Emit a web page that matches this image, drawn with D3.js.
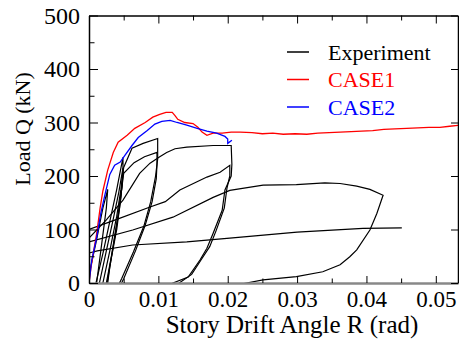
<!DOCTYPE html>
<html>
<head>
<meta charset="utf-8">
<script src="https://cdn.jsdelivr.net/npm/d3@7"></script>
<style>
  body { margin: 0; background: #fff; }
</style>
</head>
<body>
<svg id="chart" width="459" height="339"></svg>
<script>

var serif = "Liberation Serif, Times New Roman, Times, serif";

// tick values and labels
var xTicks = [0, 0.01, 0.02, 0.03, 0.04, 0.05];
var xTickLabels = ["0", "0.01", "0.02", "0.03", "0.04", "0.05"];
var xMinor = [0.005, 0.015, 0.025, 0.035, 0.045];
var yTicks = [0, 100, 200, 300, 400, 500];
var yMinor = [50, 150, 250, 350, 450];

var legendNames = ["Experiment", "CASE1", "CASE2"];
var legendColors = ["#000000", "#ff0000", "#0000ff"];

// CASE1 (red) analysis
var case1R = [0, 0.0003, 0.0007, 0.0011, 0.0016, 0.0020, 0.0027, 0.0035, 0.0042, 0.0055, 0.0066, 0.0081, 0.0092, 0.0102, 0.0111, 0.0120, 0.0124, 0.0128, 0.0138, 0.0150, 0.0157, 0.0163, 0.0170, 0.0179, 0.0192, 0.0205, 0.0218, 0.0235, 0.0250, 0.0265, 0.0280, 0.0297, 0.0314, 0.0330, 0.0346, 0.0362, 0.0378, 0.0393, 0.0409, 0.0425, 0.0441, 0.0458, 0.0474, 0.0490, 0.0506, 0.0520, 0.0535];
var case1Q = [0, 30, 62, 92, 140, 172, 211, 244, 263, 276, 289, 300, 310, 315, 319, 319, 313, 306, 300, 298, 291, 282, 276, 280, 280, 282, 282, 281, 279, 280, 278, 279, 278, 280, 281, 282, 283, 284, 285, 287, 288, 289, 290, 291, 291, 293, 295];

// CASE2 (blue) analysis
var case2R = [0, 0.0004, 0.0011, 0.0017, 0.0023, 0.0030, 0.0037, 0.0045, 0.0052, 0.0062, 0.0071, 0.0084, 0.0095, 0.0105, 0.0117, 0.0127, 0.0141, 0.0156, 0.0170, 0.0184, 0.0196, 0.0200, 0.0200, 0.0206];
var case2Q = [0, 43, 85, 130, 165, 203, 220, 226, 239, 257, 272, 285, 297, 302, 304, 300, 295, 289, 284, 280, 274, 269, 261, 267];

// experiment, one array per cycle [R, Q]
var cyc1 = [[-0.0005, -40], [0, 15], [0.001, 75], [0.002, 140], [0.0027, 175], [0.0025, 140], [0.0019, 80], [0.0013, 20], [0.0009, -20]];
var cyc2 = [[0.0006, -30], [0.001, 0], [0.002, 55], [0.003, 115], [0.004, 175], [0.0049, 235], [0.0049, 205], [0.0046, 160], [0.0040, 100], [0.0032, 45], [0.0026, 0], [0.0022, -30]];
var cyc3 = [[0.0012, -30], [0.0015, 0], [0.0025, 60], [0.0035, 120], [0.0043, 170], [0.0049, 215], [0.0048, 185], [0.0044, 140], [0.0037, 85], [0.0030, 30], [0.0027, 0], [0.0024, -25]];
var cyc4 = [[0.0016, -30], [0.002, 0], [0.003, 60], [0.004, 125], [0.0046, 175], [0.005, 216], [0.0062, 252], [0.0078, 261], [0.0099, 270], [0.0099, 232], [0.0096, 200], [0.0089, 152], [0.0079, 106], [0.0064, 58], [0.0047, 8], [0.0044, 0], [0.004, -15]];
var cyc5 = [[0.0022, -20], [0.0025, 0], [0.0033, 55], [0.0041, 120], [0.0047, 175], [0.0050, 205], [0.0065, 225], [0.0080, 236], [0.0098, 244], [0.0098, 222], [0.0097, 195], [0.0091, 152], [0.0081, 108], [0.0067, 60], [0.0050, 8], [0.0047, 0], [0.0043, -15]];
var cyc6 = [[-0.002, 50], [0, 84], [0.0025, 118], [0.0049, 155], [0.0073, 205], [0.0088, 224], [0.0102, 236], [0.0112, 244], [0.0124, 251], [0.0141, 254], [0.0179, 257], [0.0205, 257], [0.0206, 222], [0.0205, 200], [0.0196, 174], [0.0192, 136], [0.0179, 93], [0.0170, 65], [0.0160, 43], [0.0143, 11], [0.0121, 0], [0.011, -10]];
var cyc7 = [[-0.002, 70], [0, 100], [0.004, 119], [0.0088, 142], [0.011, 152], [0.0131, 174], [0.017, 198], [0.0189, 207], [0.0203, 220], [0.0203, 200], [0.0199, 178], [0.0195, 140], [0.0183, 97], [0.0174, 68], [0.0161, 42], [0.0148, 16], [0.0130, 0], [0.012, -8]];
var cyc8 = [[-0.003, 40], [0, 77], [0.0063, 99], [0.0121, 123], [0.0179, 160], [0.0203, 173], [0.0251, 183], [0.0299, 184], [0.0340, 187], [0.0362, 186], [0.0386, 181], [0.0405, 175], [0.0424, 164], [0.0415, 130], [0.0405, 99], [0.0386, 62], [0.0376, 49], [0.0362, 34], [0.0337, 21], [0.0299, 12], [0.0251, 6], [0.0227, 0], [0.02, -8]];
var cyc9 = [[-0.003, 30], [0, 56], [0.0012, 60], [0.0063, 71], [0.0141, 77], [0.0203, 84], [0.030, 95], [0.0395, 102], [0.0451, 103]];

var cycles = [cyc1, cyc2, cyc3, cyc4, cyc5, cyc6, cyc7, cyc8, cyc9];

var margin = {top: 15.5, left: 89},
    width = 369,
    height = 267.5;

var x = d3.scaleLinear().domain([0, 0.0532]).range([0, width]);
var y = d3.scaleLinear().domain([0, 500]).range([height, 0]);

var svg = d3.select("#chart")
  .append("g")
    .attr("transform", "translate(" + margin.left + "," + margin.top + ")");

svg.append("clipPath").attr("id", "clip")
  .append("rect").attr("width", width).attr("height", height);

var line = d3.line()
    .x(function(d) { return x(d[0]); })
    .y(function(d) { return y(d[1]); });

var plot = svg.append("g").attr("clip-path", "url(#clip)");

plot.selectAll(".exp")
    .data(cycles)
  .enter().append("path")
    .attr("class", "exp")
    .attr("d", line)
    .attr("fill", "none")
    .attr("stroke", "#000")
    .attr("stroke-width", 1.2);

plot.append("path")
    .attr("d", line(case1R.map(function(r, i) { return [r, case1Q[i]]; })))
    .attr("fill", "none")
    .attr("stroke", "#ff0000")
    .attr("stroke-width", 1.3);

plot.append("path")
    .attr("d", line(case2R.map(function(r, i) { return [r, case2Q[i]]; })))
    .attr("fill", "none")
    .attr("stroke", "#0000ff")
    .attr("stroke-width", 1.3);

// frame and ticks (all pointing inward)
var bottomAxis = svg.append("g")
    .attr("transform", "translate(0," + height + ")")
    .call(d3.axisBottom(x).tickValues(xTicks).tickSizeInner(-7).tickSizeOuter(0).tickPadding(8)
      .tickFormat(function(d, i) { return xTickLabels[i]; }))
    .attr("font-family", serif)
    .attr("font-size", 23);
bottomAxis.select(".domain").attr("stroke", "#888").attr("stroke-width", 2.5);
bottomAxis.selectAll("text").attr("fill", "#000");

svg.append("g")
    .attr("transform", "translate(0," + height + ")")
    .call(d3.axisBottom(x).tickValues(xMinor).tickSize(-4.5).tickFormat(""))
    .select(".domain").remove();

var leftAxis = svg.append("g")
    .call(d3.axisLeft(y).tickValues(yTicks).tickSizeInner(-9).tickSizeOuter(0).tickPadding(9))
    .attr("font-family", serif)
    .attr("font-size", 24);
leftAxis.select(".domain").attr("stroke-width", 1.5);
leftAxis.selectAll("text").attr("fill", "#000");

svg.append("g")
    .call(d3.axisLeft(y).tickValues(yMinor).tickSize(-5.5).tickFormat(""))
    .select(".domain").remove();

var topAxis = svg.append("g")
    .call(d3.axisTop(x).tickValues(xTicks).tickSizeInner(-8).tickSizeOuter(0).tickFormat(""));
topAxis.select(".domain").attr("stroke-width", 1.5);
svg.append("g")
    .call(d3.axisTop(x).tickValues(xMinor).tickSize(-5).tickFormat(""))
    .select(".domain").remove();

svg.append("g")
    .attr("transform", "translate(" + width + ",0)")
    .call(d3.axisRight(y).tickValues(yTicks).tickSizeInner(-7).tickSizeOuter(0).tickFormat(""))
    .select(".domain").attr("stroke-width", 1.5);

// axis titles
d3.select("#chart").append("text")
    .attr("transform", "translate(30,129) rotate(-90)")
    .style("text-anchor", "middle")
    .style("font-family", serif)
    .style("font-size", "22px")
    .text("Load Q (kN)");

d3.select("#chart").append("text")
    .attr("x", 292)
    .attr("y", 333)
    .style("text-anchor", "middle")
    .style("font-family", serif)
    .style("font-size", "25px")
    .text("Story Drift Angle R (rad)");

// legend
var legend = d3.select("#chart").selectAll(".leg")
    .data(legendNames)
  .enter().append("g")
    .attr("class", "leg")
    .attr("transform", function(d, i) { return "translate(287," + (52 + i * 27.5) + ")"; });

legend.append("line")
    .attr("x1", 0).attr("x2", 22)
    .attr("stroke", function(d, i) { return legendColors[i]; })
    .attr("stroke-width", 1.5);

legend.append("text")
    .attr("x", 41)
    .attr("y", 7.5)
    .style("font-family", serif)
    .style("font-size", "22px")
    .attr("fill", function(d, i) { return legendColors[i]; })
    .text(function(d) { return d; });

</script>
</body>
</html>
